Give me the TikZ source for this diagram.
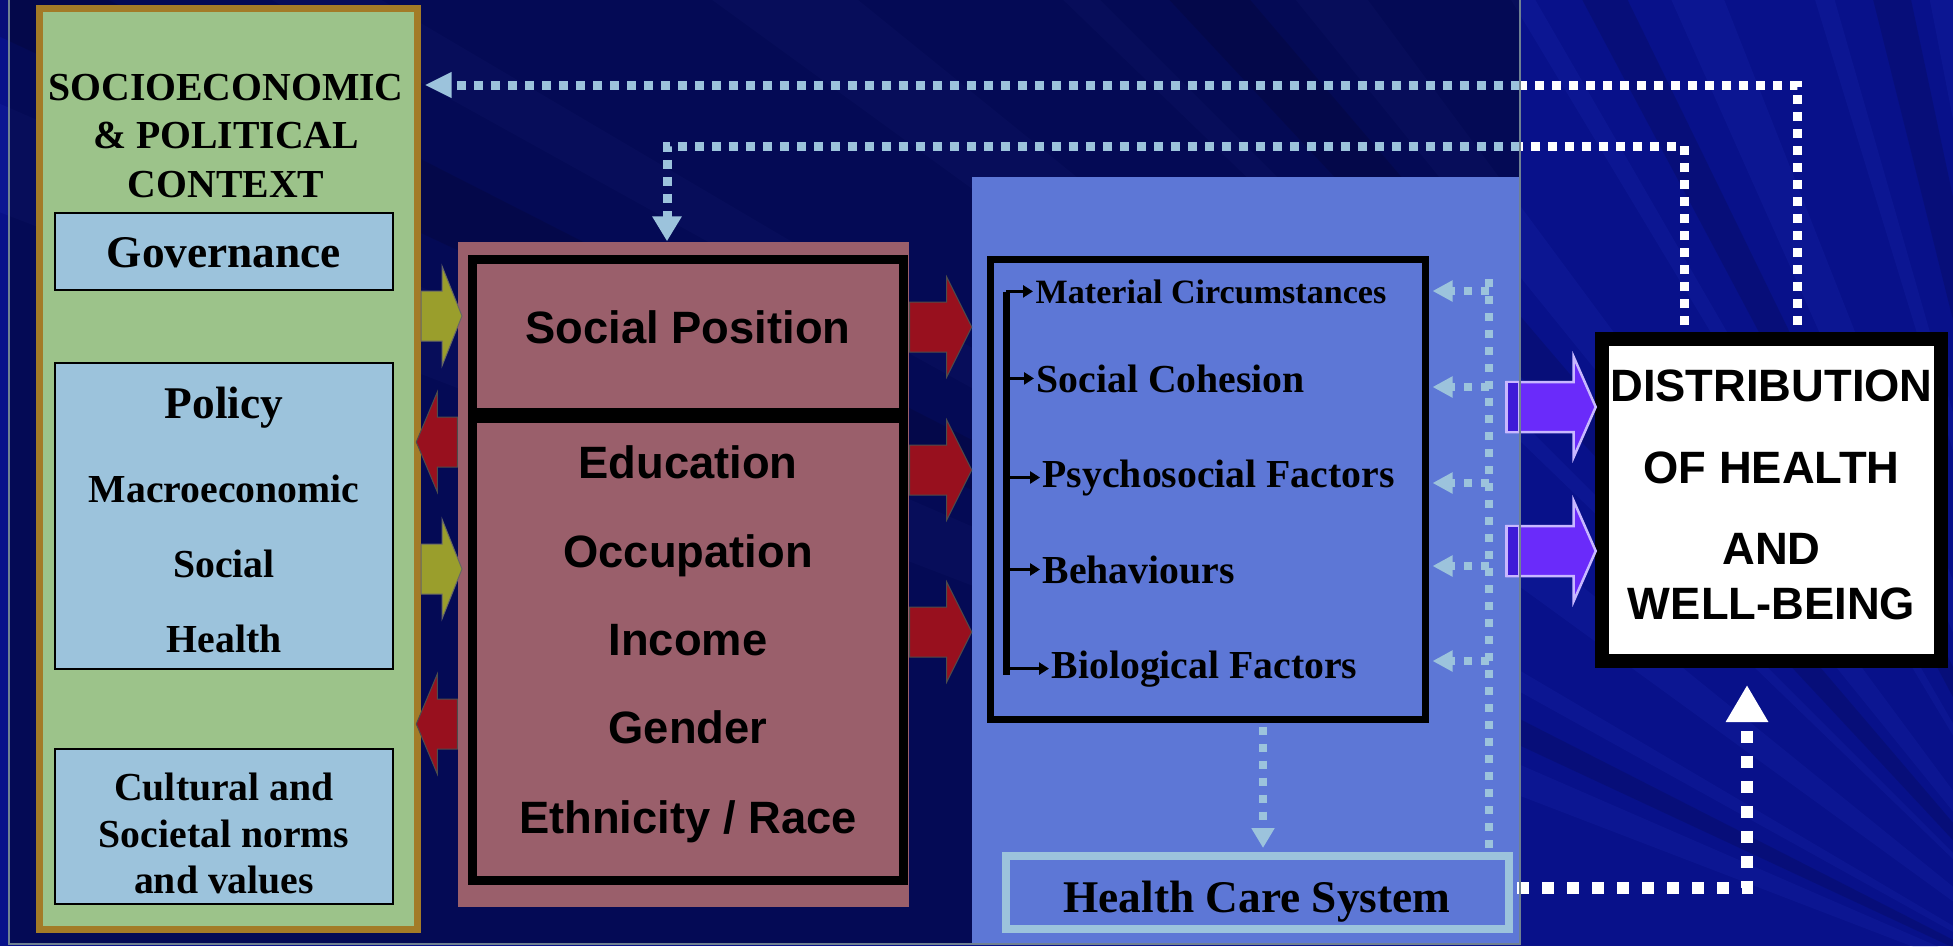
\documentclass[tikz,border=0pt]{standalone}
\usepackage{fontspec}
\setmainfont{Liberation Serif}
\setsansfont{Liberation Sans}
\usetikzlibrary{arrows.meta}

% colours of the slide
\definecolor{slidenavy}{HTML}{08118A}
\definecolor{raylight}{HTML}{2A3CC8}
\definecolor{framegray}{HTML}{6F8192}
\definecolor{sagefill}{HTML}{9CC38A}
\definecolor{ochreline}{HTML}{A37B27}
\definecolor{skyfill}{HTML}{9CC3DC}
\definecolor{mauvefill}{HTML}{9A5F6B}
\definecolor{cornfill}{HTML}{5D77D6}
\definecolor{winefill}{HTML}{98101E}
\definecolor{olivefill}{HTML}{9A9E2C}
\definecolor{purplefill}{HTML}{6A2BFA}
\definecolor{purpledim}{HTML}{3E1BD7}
\definecolor{lavenderline}{HTML}{C8B8FF}
\definecolor{palelink}{HTML}{9CC3DC}

\tikzset{
  ctxbox/.style={draw=ochreline, line width=0.7mm, fill=sagefill, inner sep=0pt},
  polbox/.style={draw=black, line width=0.2mm, fill=skyfill, inner sep=0pt, minimum width=33.8mm},
  posbox/.style={draw=black, line width=0.9mm, inner sep=0pt, minimum width=43.1mm},
  lbl/.style={font=\fontsize{11.3}{13.6}\selectfont\bfseries, inner sep=0pt, anchor=base},
  smalllbl/.style={lbl, font=\fontsize{9.7}{11.6}\selectfont\bfseries},
  biglbl/.style={lbl, font=\fontsize{12.9}{15.5}\selectfont\bfseries},
  sanslbl/.style={lbl, font=\sffamily\bfseries\fontsize{12.9}{15.5}\selectfont},
  fbwhite/.style={white, line width=0.9mm, dash pattern=on 0.9mm off 0.8mm},
  fbpale/.style={fbwhite, palelink},
  feed/.style={palelink, line width=0.75mm, dash pattern=on 0.8mm off 0.9mm},
  carelink/.style={white, line width=1.2mm, dash pattern=on 1.2mm off 1.3mm},
  factorarrow/.style={line width=0.3mm, shorten >=0.2mm, -{Triangle[length=1mm,width=1.2mm]}},
  pics/slab/.style 2 args={code={
    \path[pic actions] (0,-25) -- (#1-#2,-25) -- (#1-#2,-50) -- (#1,0)
      -- (#1-#2,50) -- (#1-#2,25) -- (0,25) -- cycle;
  }},
}

\begin{document}
\begin{tikzpicture}[x=0.1mm, y=-0.1mm]
  \useasboundingbox (0,0) rectangle (1953,946);

  % backdrop with faint rays from the lower right corner
  \fill[slidenavy] (0,0) rectangle (1953,946);
  \begin{scope}
    \clip (0,0) rectangle (1953,946);
    \begin{scope}[shift={(2130,1030)}]
      \foreach \a/\b in {201/203.5, 209/210.5, 216/219, 224/225, 231/233.5,
                         239/240, 246/248.5, 253/254, 259/261, 266/267}
        \fill[raylight, opacity=0.13] (0,0) -- (\a:3400) -- (\b:3400) -- cycle;
      \foreach \a/\b in {205/207, 227/229.5, 242/244, 256/258}
        \fill[black, opacity=0.12] (0,0) -- (\a:3400) -- (\b:3400) -- cycle;
    \end{scope}
  \end{scope}
  \fill[black, opacity=0.38] (9,0) rectangle (1520,944);

  % context column
  \node[ctxbox, minimum width=37.8mm, minimum height=92.1mm] (context) at (228.5,469) {};
  \node[lbl] (ctx1) at (226,100) {SOCIOECONOMIC};
  \node[lbl] (ctx2) at (226,148) {\& POLITICAL};
  \node[lbl] (ctx3) at (226,197) {CONTEXT};

  \node[polbox, minimum height=7.7mm] (gov) at (224,251.5) {};
  \node[biglbl] (govtxt) at (224,267) {Governance};

  \node[polbox, minimum height=30.6mm] (policy) at (224,516) {};
  \node[biglbl] (pol1) at (224,418) {Policy};
  \node[lbl] (pol2) at (224,502) {Macroeconomic};
  \node[lbl] (pol3) at (224,577) {Social};
  \node[lbl] (pol4) at (224,652) {Health};

  \node[polbox, minimum height=15.5mm] (culture) at (224,826.5) {};
  \node[lbl] (cul1) at (224,800) {Cultural and};
  \node[lbl] (cul2) at (224,847) {Societal norms};
  \node[lbl] (cul3) at (224,893) {and values};

  % socioeconomic position
  \node[fill=mauvefill, minimum width=45.1mm, minimum height=66.5mm, inner sep=0pt] (position) at (683.5,574.5) {};
  \node[posbox, minimum height=15.3mm] (socpos) at (688,336) {};
  \node[posbox, minimum height=46.2mm] (strata) at (688,649.5) {};
  \node[sanslbl] (pos0) at (688,343) {Social Position};
  \node[sanslbl] (pos1) at (688,478) {Education};
  \node[sanslbl] (pos2) at (688,567) {Occupation};
  \node[sanslbl] (pos3) at (688,655) {Income};
  \node[sanslbl] (pos4) at (688,743) {Gender};
  \node[sanslbl] (pos5) at (688,833) {Ethnicity / Race};

  % intermediary determinants
  \node[fill=cornfill, minimum width=54.7mm, minimum height=76.6mm, inner sep=0pt] (mechanisms) at (1245.5,560) {};
  \node[draw=black, line width=0.7mm, minimum width=43.5mm, minimum height=46mm, inner sep=0pt] (pathways) at (1208,489.5) {};
  \node[smalllbl, anchor=base west] (f1) at (1035,303) {Material Circumstances};
  \node[lbl, anchor=base west] (f2) at (1036,392) {Social Cohesion};
  \node[lbl, anchor=base west] (f3) at (1042,487) {Psychosocial Factors};
  \node[lbl, anchor=base west] (f4) at (1042,583) {Behaviours};
  \node[lbl, anchor=base west] (f5) at (1051,678) {Biological Factors};

  \node[draw=palelink, line width=0.8mm, minimum width=50.3mm, minimum height=7.3mm, inner sep=0pt] (hcs) at (1257.5,892.5) {};
  \node[biglbl] (hcstxt) at (1257,912) {Health Care System};

  % outcome
  \node[draw=black, line width=1.4mm, fill=white, minimum width=33.9mm, minimum height=32.2mm, inner sep=0pt] (dist) at (1771.5,500) {};
  \node[sanslbl] (out1) at (1771.5,401) {DISTRIBUTION};
  \node[sanslbl] (out2) at (1771.5,483) {OF HEALTH};
  \node[sanslbl] (out3) at (1771.5,564) {AND};
  \node[sanslbl] (out4) at (1771.5,619) {WELL-BEING};

  % bracket in front of the factors
  \coordinate (spinetop) at (1006,292);
  \coordinate (spinebot) at (1006,675);
  \draw[line width=0.7mm] (spinetop) -- (spinebot);
  \foreach \f in {f1,f2,f3,f4,f5}
    \draw[factorarrow] (spinetop |- \f.west) -- (\f.west);

  % feedback loops from the outcome
  \coordinate (edgeA) at (1520,85);
  \coordinate (edgeB) at (1520,146);
  \draw[fbwhite] ([xshift=2.55mm,yshift=0.7mm]dist.north) |- (edgeA);
  \draw[fbpale, -{Triangle[length=2.7mm,width=2.4mm]}] (edgeA) -- ([xshift=0.35mm]context.east |- edgeA);
  \draw[fbwhite] ([xshift=-8.75mm,yshift=0.7mm]dist.north) |- (edgeB);
  \draw[fbpale, -{Triangle[length=2.5mm,width=2.8mm]}] (edgeB) -| ([xshift=-1.65mm]position.north);

  % health care system
  \coordinate (feedtop) at (1489,275);
  \draw[feed] ([yshift=0.4mm]hcs.north -| feedtop) -- (feedtop);
  \foreach \yy in {291,387,483,566,661}
    \draw[feed, -{Triangle[length=2mm,width=2mm]}] (feedtop |- 0,\yy) -- ([xshift=0.35mm]pathways.east |- 0,\yy);
  \draw[feed, -{Triangle[length=2mm,width=2.2mm]}] ([xshift=5.5mm,yshift=-0.35mm]pathways.south)
    -- ([xshift=5.5mm,yshift=0.4mm]pathways.south |- hcs.north);
  \draw[carelink, -{Triangle[length=3.7mm,width=4mm]}] ([xshift=0.4mm,yshift=0.5mm]hcs.east)
    -| ([xshift=-2.45mm,yshift=-1.7mm]dist.south);

  % block arrows
  \pic[fill=olivefill, draw=black!60, line width=0.1mm] at (context.east |- 0,316) {slab={41}{20}};
  \pic[fill=olivefill, draw=black!60, line width=0.1mm] at (context.east |- 0,569) {slab={41}{20}};
  \pic[fill=winefill, draw=black!70, line width=0.1mm, rotate=180] at (position.west |- 0,442) {slab={41}{21}};
  \pic[fill=winefill, draw=black!70, line width=0.1mm, rotate=180] at (position.west |- 0,724) {slab={41}{21}};
  \foreach \yy in {327,470,632}
    \pic[fill=winefill, draw=black!70, line width=0.1mm] at (position.east |- 0,\yy) {slab={62}{25}};
  \foreach \yy in {407,551} {
    \pic[fill=purplefill, draw=lavenderline, line width=0.25mm] at ([xshift=-1.3mm]mechanisms.east |- 0,\yy) {slab={89}{22}};
    \filldraw[fill=purpledim, draw=lavenderline, line width=0.25mm]
      ([xshift=-1.3mm,yshift=2.5mm]mechanisms.east |- 0,\yy) rectangle ([yshift=-2.5mm]mechanisms.east |- 0,\yy);
  }

  % outline of the left panel
  \draw[framegray, line width=0.25mm] (9,0) |- (1520,944) -- (1520,0);
\end{tikzpicture}
\end{document}
